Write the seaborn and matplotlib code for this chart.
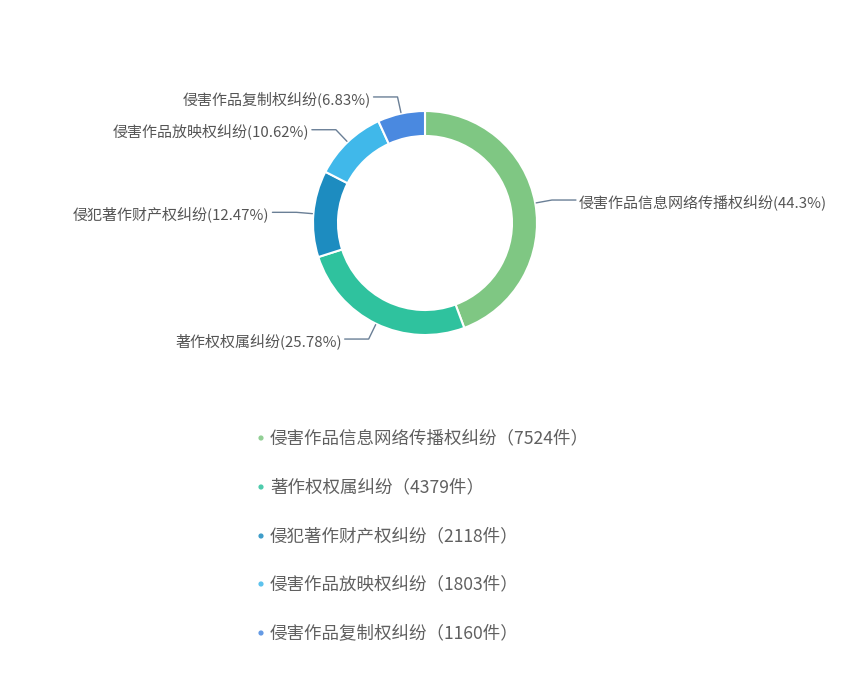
import numpy as np
import matplotlib
matplotlib.use('Agg')
import matplotlib.pyplot as plt
import seaborn as sns

# data
categories = ['侵害作品信息网络传播权纠纷', '著作权权属纠纷', '侵犯著作财产权纠纷',
              '侵害作品放映权纠纷', '侵害作品复制权纠纷']
counts = [7524, 4379, 2118, 1803, 1160]
percent_labels = ['44.3%', '25.78%', '12.47%', '10.62%', '6.83%']
colors = ['#7fc783', '#2fc29e', '#1d8cc0', '#40b8ea', '#4a89e0']

sns.set_style('white')
plt.rcParams['font.family'] = ['Noto Sans CJK SC', 'DejaVu Sans']

W, H = 852, 687
fig = plt.figure(figsize=(W / 100, H / 100), dpi=100)
ax = fig.add_axes([0, 0, 1, 1])

cx, cy, R, ring = 425, 223, 112, 25
# y axis inverted later: counterclock in data = clockwise on screen
wedges, _ = ax.pie(counts, colors=colors, startangle=-90, counterclock=True,
                   center=(cx, cy), radius=R, frame=True,
                   wedgeprops=dict(width=ring, edgecolor='white', linewidth=1.5))
ax.set_xlim(0, W)
ax.set_ylim(H, 0)   # pixel-like coordinates, y downward
ax.set_aspect('equal')
ax.axis('off')

line_col = '#6a7f96'
for w, cat, pct in zip(wedges, categories, percent_labels):
    mid = np.deg2rad((w.theta1 + w.theta2) / 2)
    dx, dy = np.cos(mid), np.sin(mid)
    p0 = (cx + (R + 1) * dx, cy + (R + 1) * dy)
    p1 = (cx + (R + 17) * dx, cy + (R + 17) * dy)
    side = 1 if dx >= 0 else -1
    p2 = (p1[0] + side * 24, p1[1])
    ax.plot([p0[0], p1[0], p2[0]], [p0[1], p1[1], p2[1]], color=line_col, lw=1)
    ax.text(p2[0] + side * 3, p2[1] + 2, f'{cat}({pct})', fontsize=10.8, color='#555555',
            ha='left' if side > 0 else 'right', va='center')

# legend block
leg_y = [438, 487, 536, 584, 633]
for yy, cat, n, c in zip(leg_y, categories, counts, colors):
    ax.scatter([261], [yy], s=14, color=c, edgecolors='none', alpha=0.85)
    ax.text(270, yy, f'{cat}（{n}件）', fontsize=12.6, color='#606060',
            ha='left', va='center')

fig.savefig('out.png', dpi=100, facecolor='white')
